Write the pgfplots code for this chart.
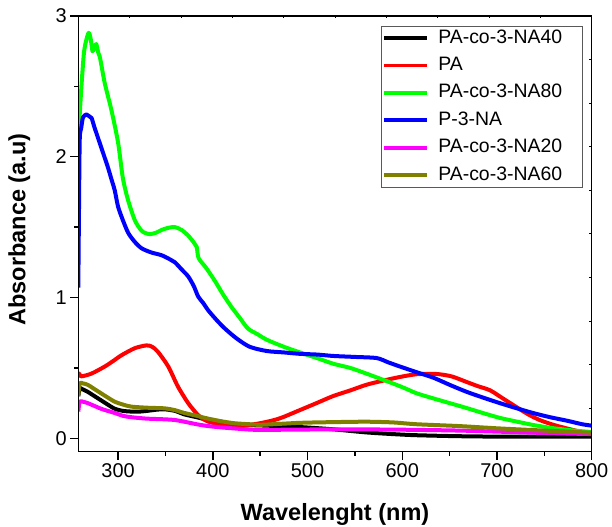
\documentclass[border=0pt]{standalone}
\usepackage{fontspec}
\setmainfont{Liberation Sans}
\usepackage{pgfplots}
\pgfplotsset{compat=1.18}
\definecolor{olivec}{RGB}{128,128,0}
\definecolor{greenc}{RGB}{0,255,0}
\definecolor{magc}{RGB}{255,0,255}
\tikzset{ln/.style={line width=4bp, line join=round, smooth, tension=0.45}}
\begin{document}
\begin{tikzpicture}
\begin{axis}[
  scale only axis,
  width=513.4bp, height=435.8bp,
  xmin=258, xmax=800, ymin=-0.095, ymax=3,
  xtick={300,400,500,600,700,800},
  ytick={0,1,2,3},
  minor x tick num=1, minor y tick num=1,
  xtick pos=bottom, ytick pos=left,
  tick align=outside,
  major tick length=8bp, minor tick length=4bp,
  every tick/.style={line width=1.4bp, black},
  axis line style={line width=1.4bp},
  /pgf/number format/assume math mode=true,
  ticklabel style={font=\fontsize{20}{24}\selectfont},
  xlabel={\textbf{Wavelenght (nm)}},
  ylabel={\textbf{Absorbance (a.u)}},
  xlabel style={font=\fontsize{23.6}{28}\selectfont, at={(axis description cs:0.5,-0.157)}, anchor=base},
  ylabel style={font=\fontsize{23.6}{28}\selectfont, at={(axis description cs:-0.115,0.51)}, anchor=center},
  legend cell align=left,
  legend image code/.code={\draw[#1, line width=3.8bp] (0bp,0bp) -- (43bp,0bp);},
  legend style={at={(rel axis cs:0.9836,0.9775)}, anchor=north east,
    draw=black!65, line width=0.9bp, inner xsep=1.5bp, inner ysep=2bp,
    font=\fontsize{19.5}{22}\selectfont,
    nodes={inner sep=1bp, text height=14bp, text depth=4bp},
    row sep=7.4bp,
    /tikz/every even column/.append style={nodes={text width=142bp}},
    /tikz/every odd column/.append style={column sep=8bp}},
]
% PA-co-3-NA40
\addplot[black, ln] coordinates {(258,0.30)(259.5,0.355)(262,0.35)(268,0.33)(275,0.30)(282,0.27)(289,0.24)(296.5,0.21)(305,0.195)(314,0.19)(323,0.19)(332,0.196)(340,0.203)(349,0.206)(360,0.195)(370,0.17)(383,0.15)(395,0.13)(410,0.113)(423,0.10)(439,0.094)(457,0.09)(492,0.08)(527,0.064)(562,0.042)(590,0.03)(615,0.022)(660,0.015)(703,0.012)(750,0.012)(800,0.012)};
\addlegendentry{PA-co-3-NA40}
% PA
\addplot[red, ln] coordinates {(258,0.44)(259,0.46)(261,0.44)(272,0.46)(286,0.51)(295,0.55)(303.6,0.59)(317.6,0.64)(330,0.66)(336,0.65)(342,0.615)(353,0.51)(363,0.37)(374,0.25)(384.5,0.165)(393,0.125)(402,0.107)(415,0.092)(430,0.087)(439,0.095)(452,0.11)(465,0.13)(474,0.15)(490,0.195)(509.5,0.25)(527,0.30)(545,0.34)(562,0.38)(580,0.41)(597,0.435)(615,0.455)(636,0.457)(652,0.44)(668,0.40)(680,0.37)(693,0.34)(707,0.28)(721,0.22)(733,0.17)(745,0.13)(760,0.095)(774,0.07)(786,0.05)(800,0.035)};
\addlegendentry{PA}
% PA-co-3-NA80
\addplot[greenc, ln] coordinates {(258,2.12)(259.5,2.30)(261.3,2.50)(264,2.74)(266.5,2.83)(269,2.88)(271,2.84)(273,2.75)(275,2.78)(277,2.80)(279,2.74)(281,2.70)(286,2.52)(293,2.33)(300,2.10)(305,1.85)(310.6,1.69)(317.6,1.55)(324,1.48)(328,1.46)(333.5,1.45)(340,1.46)(346,1.48)(353,1.495)(360,1.50)(367,1.48)(374,1.44)(380,1.39)(383,1.36)(385,1.28)(393,1.21)(402,1.12)(411,1.02)(420,0.93)(428,0.86)(437,0.78)(447,0.74)(457,0.70)(475,0.65)(492,0.61)(510,0.57)(527,0.53)(545,0.50)(562,0.46)(576,0.425)(590,0.39)(603,0.355)(615,0.32)(632,0.285)(650,0.25)(668,0.215)(685,0.18)(703,0.145)(720,0.12)(738,0.095)(756,0.075)(774,0.06)(790,0.05)(800,0.045)};
\addlegendentry{PA-co-3-NA80}
% P-3-NA
\addplot[blue, ln] coordinates {(258,1.07)(258.7,1.6)(259.5,2.12)(261,2.2)(263,2.28)(266.6,2.30)(269,2.29)(272,2.275)(275,2.21)(282,2.07)(289,1.93)(293,1.84)(296.5,1.76)(300,1.645)(305,1.55)(310.6,1.46)(317,1.40)(324.7,1.35)(335,1.32)(346,1.30)(355,1.27)(360,1.25)(367,1.20)(374,1.15)(380,1.08)(384.6,1.006)(390,0.96)(395,0.91)(404,0.84)(412.7,0.78)(425,0.71)(439,0.65)(457,0.62)(475,0.61)(492,0.60)(510,0.595)(527,0.585)(550,0.578)(573,0.57)(585,0.54)(597.5,0.51)(615,0.47)(633,0.43)(650,0.38)(668,0.33)(685,0.29)(703,0.25)(720,0.215)(738,0.18)(756,0.15)(774,0.125)(790,0.10)(800,0.09)};
\addlegendentry{P-3-NA}
% PA-co-3-NA20
\addplot[magc, ln] coordinates {(258,0.19)(259.5,0.26)(263,0.26)(268,0.25)(275,0.23)(282,0.21)(289,0.195)(296.5,0.18)(305,0.16)(314,0.15)(330,0.14)(349,0.135)(360,0.13)(370,0.118)(383,0.10)(395,0.087)(410,0.077)(423,0.07)(439,0.062)(451,0.06)(492,0.062)(527,0.064)(570,0.063)(615,0.06)(660,0.055)(703,0.047)(750,0.038)(800,0.03)};
\addlegendentry{PA-co-3-NA20}
% PA-co-3-NA60
\addplot[olivec, ln] coordinates {(258,0.30)(259.5,0.39)(263,0.39)(268,0.38)(275,0.35)(282,0.32)(289,0.29)(296.5,0.26)(305,0.24)(314,0.225)(332,0.217)(349,0.213)(360,0.20)(370,0.18)(383,0.16)(395,0.14)(410,0.12)(423,0.107)(439,0.10)(451,0.096)(492,0.11)(527,0.115)(562,0.118)(590,0.113)(615,0.10)(660,0.087)(703,0.07)(750,0.055)(800,0.04)};
\addlegendentry{PA-co-3-NA60}
\end{axis}
\begin{axis}[
  scale only axis,
  width=513.4bp, height=435.8bp,
  xmin=0, xmax=10, ymin=0, ymax=10,
  xtick={1,...,9}, ytick={1,...,9},
  xtick pos=top, ytick pos=right,
  xticklabels={}, yticklabels={},
  tick align=inside, major tick length=2.5bp,
  every tick/.style={line width=0.9bp, black},
  axis line style={line width=1.4bp},
]
\end{axis}
\pgfresetboundingbox
\path (current axis.south west) ++(-78.3bp,-75.3bp) coordinate (bl);
\path (current axis.north east) ++(20.3bp,15.9bp) coordinate (tr);
\useasboundingbox (bl) rectangle (tr);
\end{tikzpicture}
\end{document}
